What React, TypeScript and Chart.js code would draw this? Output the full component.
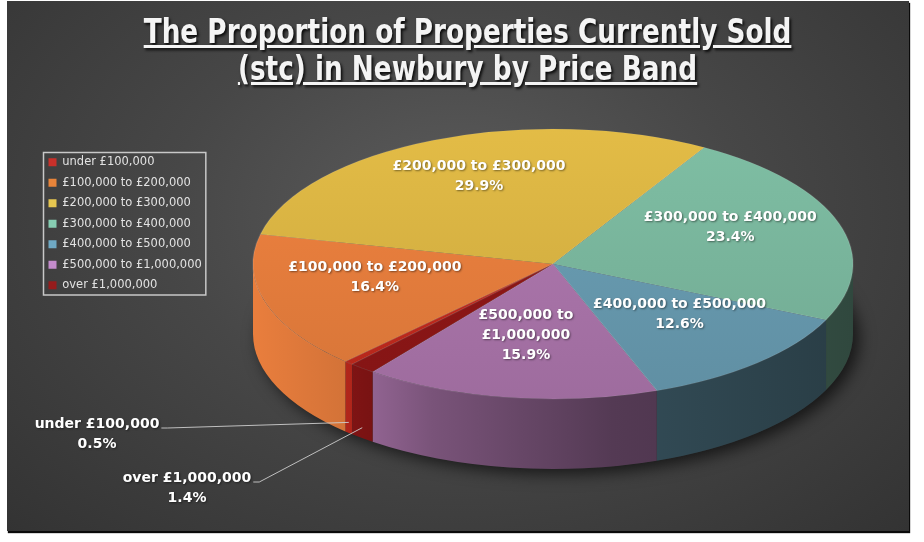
import { useEffect, useRef } from "react";
import { Chart, registerables } from "chart.js";

Chart.register(...registerables);

// data
const categories = [
  "under £100,000",
  "£100,000 to £200,000",
  "£200,000 to £300,000",
  "£300,000 to £400,000",
  "£400,000 to £500,000",
  "£500,000 to £1,000,000",
  "over £1,000,000",
];
const sliceNames = [
  "under £100,000",
  "£100,000 to £200,000",
  "£200,000 to £300,000",
  "£300,000 to £400,000",
  "£400,000 to £500,000",
  "£500,000 to\n£1,000,000",
  "over £1,000,000",
];
const shares = [0.5, 16.4, 29.9, 23.4, 12.6, 15.9, 1.4];
const colours = ["#c0291d", "#e47c3c", "#d6b142", "#78b49b", "#6698ad", "#a873a8", "#8c1616"];
const legendColours = ["#c8302a", "#e8843a", "#e6c650", "#86cdb2", "#6fa9c4", "#c48ccc", "#951c1c"];

// pie geometry on the canvas (3d look is faked by squashing the chart.js arcs)
const CX = 546;
const CY = 263;
const RX = 300;
const RY = 135;
const DEPTH = 70;
const START = 132; // degrees, clockwise from 3 o'clock
const LABEL_F = 0.62;
const LABEL_DY = -11;
const LINE = 20;
const outside: Record<number, { x: number; y: number }> = {
  0: { x: 90, y: 423 },
  6: { x: 180, y: 477 },
};

function shade(hex: string, f: number) {
  const n = parseInt(hex.slice(1), 16);
  const ch = [(n >> 16) & 255, (n >> 8) & 255, n & 255].map((v) =>
    Math.max(0, Math.min(255, Math.round(v * f)))
  );
  return `rgb(${ch[0]},${ch[1]},${ch[2]})`;
}

const pie3d = {
  id: "pie3d",
  beforeDatasetsDraw(chart: any) {
    const arcs = chart.getDatasetMeta(0).data;
    if (!arcs.length) return;
    const c = chart.ctx;

    // shadow under the pie
    c.save();
    c.shadowColor = "rgba(0,0,0,0.65)";
    c.shadowBlur = 16;
    c.shadowOffsetX = 6;
    c.shadowOffsetY = 5;
    c.fillStyle = "#2b2b2b";
    c.beginPath();
    c.ellipse(CX, CY + DEPTH, RX, RY, 0, 0, Math.PI * 2);
    c.fill();
    c.restore();

    // side walls of the front half
    arcs.forEach((arc: any, i: number) => {
      const { startAngle, endAngle } = arc;
      for (let k = -1; k <= 2; k++) {
        const lo = Math.max(startAngle, 2 * Math.PI * k);
        const hi = Math.min(endAngle, 2 * Math.PI * k + Math.PI);
        if (hi <= lo) continue;
        const g = c.createLinearGradient(CX - RX, 0, CX + RX, 0);
        g.addColorStop(0, shade(colours[i], 1.02));
        g.addColorStop(0.15, shade(colours[i], 0.93));
        g.addColorStop(0.3, shade(colours[i], 0.72));
        g.addColorStop(0.6, shade(colours[i], 0.5));
        g.addColorStop(1, shade(colours[i], 0.4));
        c.beginPath();
        c.ellipse(CX, CY, RX, RY, 0, lo, hi, false);
        c.ellipse(CX, CY + DEPTH, RX, RY, 0, hi, lo, true);
        c.closePath();
        c.fillStyle = g;
        c.fill();
      }
    });

    const { x, y, outerRadius } = arcs[0];
    c.save();
    c.translate(CX, CY);
    c.scale(RX / outerRadius, RY / outerRadius);
    c.translate(-x, -y);
  },
  afterDatasetsDraw(chart: any) {
    const arcs = chart.getDatasetMeta(0).data;
    if (!arcs.length) return;
    const c = chart.ctx;
    c.restore();

    c.save();
    c.font = 'bold 14px "DejaVu Sans", sans-serif';
    c.textAlign = "center";
    c.textBaseline = "middle";
    arcs.forEach((arc: any, i: number) => {
      const lines = [...sliceNames[i].split("\n"), shares[i].toFixed(1) + "%"];
      const m = (arc.startAngle + arc.endAngle) / 2;
      c.shadowColor = "rgba(0,0,0,0.45)";
      c.shadowBlur = 2;
      c.shadowOffsetX = 1;
      c.shadowOffsetY = 1;
      c.fillStyle = "#ffffff";
      const out = outside[i];
      if (out) {
        lines.forEach((t, j) => c.fillText(t, out.x, out.y + j * LINE));
        const w = c.measureText(lines[0]).width;
        const px = CX + RX * Math.cos(m);
        const py = CY + RY * Math.sin(m) + DEPTH * 0.85;
        c.shadowColor = "transparent";
        c.strokeStyle = "rgba(205,205,205,0.9)";
        c.lineWidth = 1;
        c.beginPath();
        c.moveTo(out.x + w / 2 + 2, out.y + 4);
        c.lineTo(out.x + w / 2 + 8, out.y + 4);
        c.lineTo(px, py);
        c.stroke();
      } else {
        const px = CX + RX * LABEL_F * Math.cos(m);
        const py = CY + RY * LABEL_F * Math.sin(m) + LABEL_DY;
        const top = py - ((lines.length - 1) * LINE) / 2;
        lines.forEach((t, j) => c.fillText(t, px, top + j * LINE));
      }
    });
    c.restore();
  },
  afterDraw(chart: any) {
    const boxes = chart.legend?.legendHitBoxes;
    if (!boxes || !boxes.length) return;
    const x0 = Math.min(...boxes.map((b: any) => b.left)) - 5;
    const y0 = Math.min(...boxes.map((b: any) => b.top)) - 4;
    const x1 = Math.max(...boxes.map((b: any) => b.left + b.width)) + 4;
    const y1 = Math.max(...boxes.map((b: any) => b.top + b.height)) + 4;
    const c = chart.ctx;
    c.save();
    c.strokeStyle = "#c8c8c8";
    c.lineWidth = 1.5;
    c.strokeRect(x0, y0, x1 - x0, y1 - y0);
    c.restore();
  },
};

export default function App() {
  const canvasRef = useRef<HTMLCanvasElement>(null);

  useEffect(() => {
    if (!canvasRef.current) return;
    const chart = new Chart(canvasRef.current, {
      type: "pie",
      data: {
        labels: categories,
        datasets: [
          {
            data: shares,
            backgroundColor: (ctx: any) => {
              const base = colours[ctx.dataIndex];
              const area = ctx.chart.chartArea;
              if (!area) return base;
              const cy = (area.top + area.bottom) / 2;
              const r = Math.min(area.width, area.height) / 2;
              const g = ctx.chart.ctx.createLinearGradient(0, cy - r, 0, cy + r);
              g.addColorStop(0, shade(base, 1.06));
              g.addColorStop(1, shade(base, 0.94));
              return g;
            },
            borderColor: "rgba(255,255,255,0.1)",
            borderWidth: 1,
          },
        ],
      },
      options: {
        responsive: false,
        animation: false,
        events: [],
        rotation: START + 90,
        layout: { padding: { top: 146.5, left: 32.5 } },
        plugins: {
          tooltip: { enabled: false },
          legend: {
            position: "left",
            align: "start",
            labels: {
              boxWidth: 8,
              boxHeight: 8,
              padding: 9,
              color: "#e2e2e2",
              font: { family: '"DejaVu Sans", sans-serif', size: 11.5 },
              generateLabels: () =>
                categories.map((text, i) => ({
                  text,
                  fillStyle: legendColours[i],
                  strokeStyle: legendColours[i],
                  fontColor: "#e2e2e2",
                  lineWidth: 0,
                  hidden: false,
                  index: i,
                  datasetIndex: 0,
                })),
            },
          },
        },
      },
      plugins: [pie3d],
    });
    return () => chart.destroy();
  }, []);

  return (
    <div style={{ position: "absolute", left: 0, top: 0, width: 924, height: 542, background: "#fff" }}>
      <div
        style={{
          position: "absolute",
          left: 7,
          top: 1,
          width: 902,
          height: 530,
          background: "radial-gradient(ellipse at 50% 40%, #5c5c5c 0%, #474747 45%, #333333 100%)",
          boxShadow: "1px 2px 1px #0a0a0a",
          overflow: "hidden",
        }}
      >
        <div
          style={{
            position: "absolute",
            left: 7,
            top: 12,
            width: 902,
            textAlign: "center",
            color: "#f4f4f4",
            fontFamily: '"Liberation Sans Narrow", "DejaVu Sans Condensed", sans-serif',
            fontWeight: "bold",
            fontSize: 34,
            lineHeight: "37px",
            textDecoration: "underline",
            textShadow: "2px 2px 3px rgba(0,0,0,0.85)",
            transform: "scaleX(0.86)",
            transformOrigin: "469px 0",
          }}
        >
          The Proportion of Properties Currently Sold
          <br />
          (stc) in Newbury by Price Band
        </div>
        <canvas ref={canvasRef} width={902} height={530} style={{ position: "absolute", left: 0, top: 0 }} />
      </div>
    </div>
  );
}
